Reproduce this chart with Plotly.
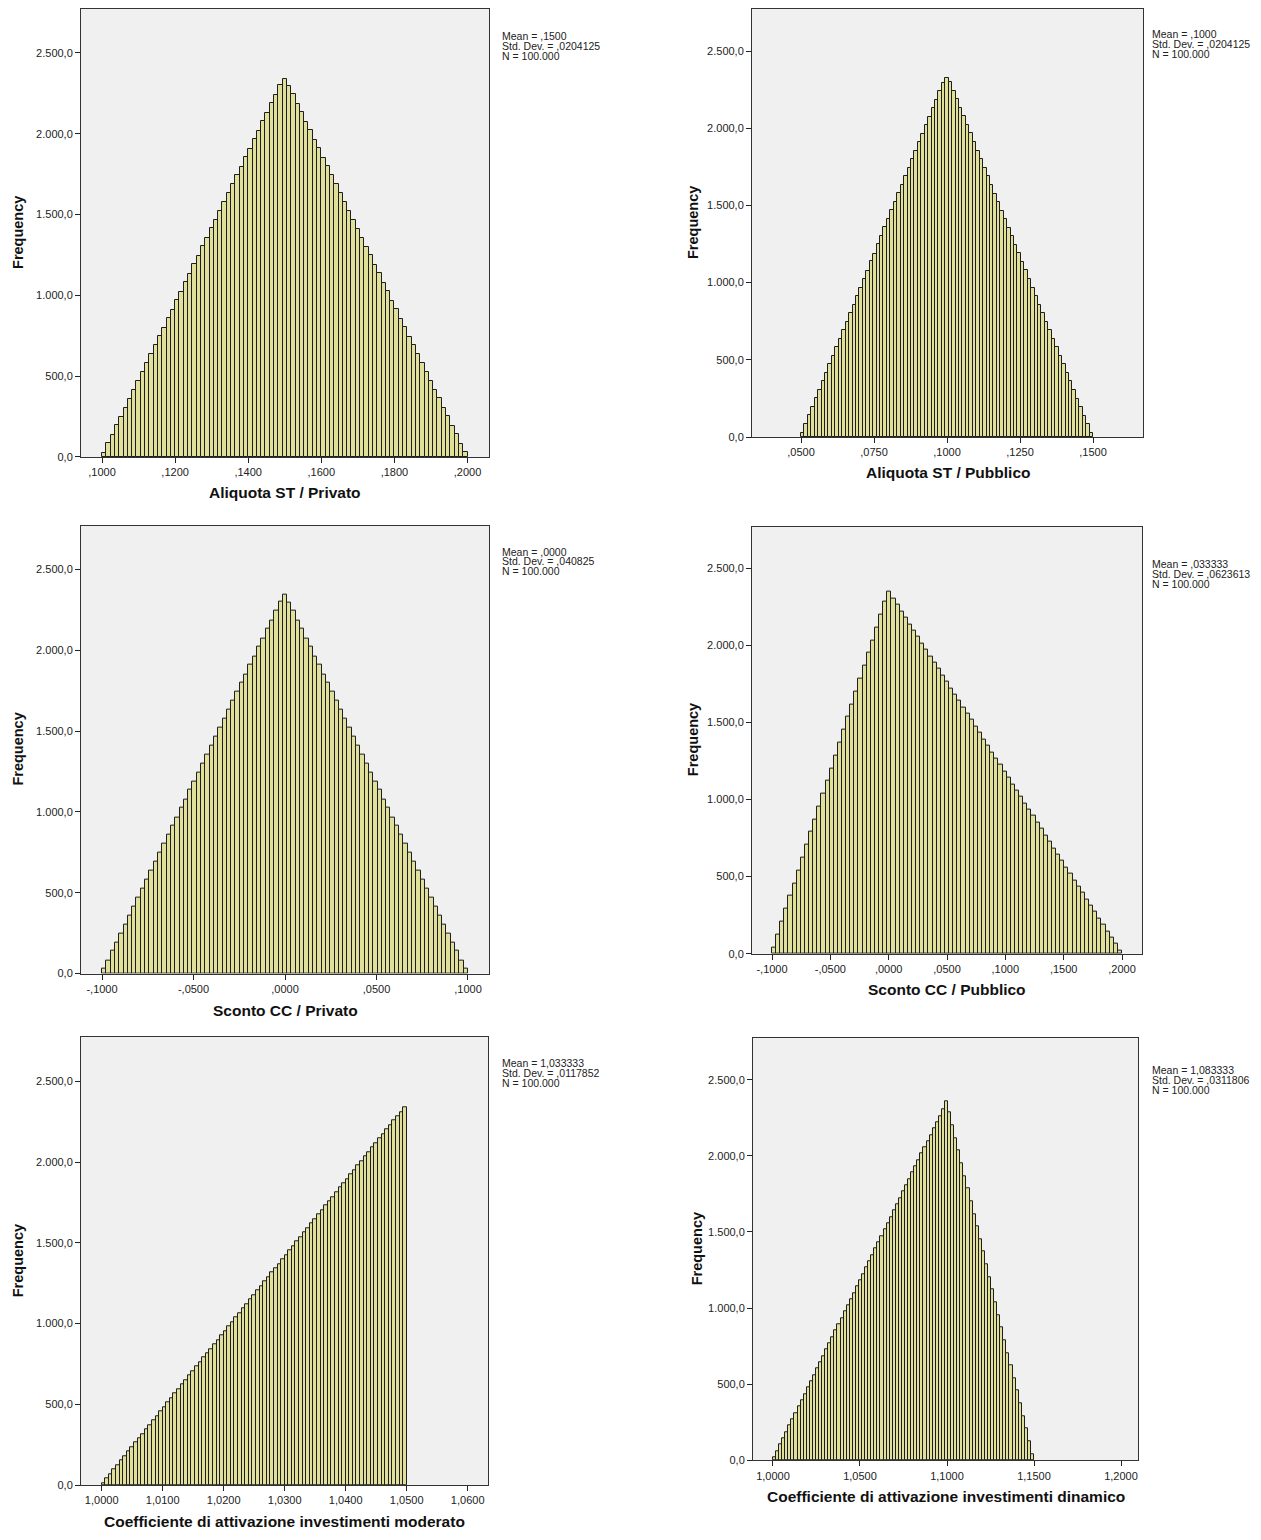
import plotly.graph_objects as go

# ---------------- DATA ----------------
# Panel 1: Aliquota ST / Privato
p1_title = "Aliquota ST / Privato"
p1_bins = [0.10, 0.20]
p1_counts = [27, 85, 136, 196, 247, 306, 358, 417, 468, 528, 579, 639, 690, 749, 801, 860, 911, 971, 1022, 1081,
             1133, 1192, 1243, 1303, 1354, 1414, 1465, 1524, 1576, 1635, 1686, 1746, 1797, 1856, 1908, 1967, 2018,
             2078, 2129, 2189, 2240, 2299, 2336,
             2295, 2244, 2185, 2133, 2074, 2022, 1963, 1912, 1852, 1801, 1742, 1690, 1631, 1580, 1520, 1469, 1410,
             1358, 1299, 1247, 1188, 1137, 1077, 1026, 967, 915, 856, 805, 745, 694, 635, 583, 524, 472, 413, 362,
             302, 251, 192, 140, 81, 29]
p1_xticks = [0.10, 0.12, 0.14, 0.16, 0.18, 0.20]
p1_xlabels = [",1000", ",1200", ",1400", ",1600", ",1800", ",2000"]
p1_stats = ["Mean = ,1500", "Std. Dev. = ,0204125", "N = 100.000"]

# Panel 2: Aliquota ST / Pubblico
p2_title = "Aliquota ST / Pubblico"
p2_bins = [0.05, 0.15]
p2_counts = [29, 82, 140, 192, 251, 302, 362, 413, 472, 524, 583, 635, 694, 745, 805, 856, 915, 967, 1026, 1077,
             1137, 1188, 1247, 1299, 1358, 1410, 1469, 1520, 1580, 1631, 1690, 1742, 1801, 1852, 1912, 1963, 2022,
             2074, 2133, 2185, 2244, 2290, 2322,
             2298, 2241, 2188, 2130, 2077, 2019, 1966, 1909, 1855, 1798, 1744, 1688, 1633, 1577, 1522, 1467, 1411,
             1356, 1300, 1245, 1190, 1134, 1079, 1024, 968, 913, 858, 802, 747, 692, 636, 581, 526, 470, 415, 360,
             304, 249, 194, 138, 83, 28]
p2_xticks = [0.05, 0.075, 0.10, 0.125, 0.15]
p2_xlabels = [",0500", ",0750", ",1000", ",1250", ",1500"]
p2_stats = ["Mean = ,1000", "Std. Dev. = ,0204125", "N = 100.000"]

# Panel 3: Sconto CC / Privato
p3_title = "Sconto CC / Privato"
p3_bins = [-0.10, 0.10]
p3_counts = [28, 83, 139, 193, 250, 303, 361, 414, 471, 525, 582, 636, 693, 746, 804, 857, 914, 968, 1025, 1078,
             1136, 1189, 1246, 1300, 1357, 1411, 1468, 1521, 1579, 1632, 1689, 1743, 1800, 1853, 1911, 1964, 2021,
             2075, 2132, 2186, 2243, 2301, 2348,
             2296, 2243, 2186, 2132, 2075, 2021, 1964, 1911, 1853, 1800, 1743, 1689, 1632, 1579, 1521, 1468, 1411,
             1357, 1300, 1246, 1189, 1136, 1078, 1025, 968, 914, 857, 804, 746, 693, 636, 582, 525, 471, 414, 361,
             303, 250, 193, 139, 83, 28]
p3_xticks = [-0.10, -0.05, 0.0, 0.05, 0.10]
p3_xlabels = ["-,1000", "-,0500", ",0000", ",0500", ",1000"]
p3_stats = ["Mean = ,0000", "Std. Dev. = ,040825", "N = 100.000"]

# Panel 4: Sconto CC / Pubblico
p4_title = "Sconto CC / Pubblico"
p4_bins = [-0.10, 0.20]
p4_counts = [42, 125, 208, 291, 374, 457, 540, 623, 706, 789, 872, 955, 1038, 1121, 1204, 1287, 1370, 1453, 1536,
             1619, 1702, 1785, 1868, 1951, 2034, 2117, 2200, 2283, 2352,
             2304, 2263, 2221, 2180, 2138, 2097, 2055, 2014, 1972, 1931, 1889, 1848, 1806, 1765, 1723, 1682, 1640,
             1599, 1557, 1516, 1474, 1432, 1391, 1349, 1308, 1266, 1225, 1183, 1142, 1100, 1059, 1017, 976, 934,
             893, 851, 810, 768, 727, 685, 644, 602, 561, 519, 477, 436, 394, 353, 311, 270, 228, 187, 145, 104,
             62, 21]
p4_xticks = [-0.10, -0.05, 0.0, 0.05, 0.10, 0.15, 0.20]
p4_xlabels = ["-,1000", "-,0500", ",0000", ",0500", ",1000", ",1500", ",2000"]
p4_stats = ["Mean = ,033333", "Std. Dev. = ,0623613", "N = 100.000"]

# Panel 5: Coefficiente di attivazione investimenti moderato
p5_title = "Coefficiente di attivazione investimenti moderato"
p5_bins = [1.00, 1.05]
p5_counts = [14, 42, 69, 97, 125, 152, 180, 208, 235, 263, 291, 318, 346, 374, 401, 429, 457, 484, 512, 540, 567,
             595, 623, 650, 678, 706, 734, 761, 789, 817, 844, 872, 900, 927, 955, 983, 1010, 1038, 1066, 1093,
             1121, 1149, 1176, 1204, 1232, 1259, 1287, 1315, 1342, 1370, 1398, 1425, 1453, 1481, 1508, 1536, 1564,
             1592, 1619, 1647, 1675, 1702, 1730, 1758, 1785, 1813, 1841, 1868, 1896, 1924, 1951, 1979, 2007, 2034,
             2062, 2090, 2117, 2145, 2173, 2200, 2228, 2256, 2283, 2311, 2339]
p5_xticks = [1.00, 1.01, 1.02, 1.03, 1.04, 1.05, 1.06]
p5_xlabels = ["1,0000", "1,0100", "1,0200", "1,0300", "1,0400", "1,0500", "1,0600"]
p5_stats = ["Mean = 1,033333", "Std. Dev. = ,0117852", "N = 100.000"]

# Panel 6: Coefficiente di attivazione investimenti dinamico
p6_title = "Coefficiente di attivazione investimenti dinamico"
p6_bins = [1.00, 1.15]
p6_counts = [21, 62, 104, 145, 187, 228, 270, 311, 353, 394, 436, 477, 519, 560, 602, 643, 685, 727, 768, 810, 851,
             893, 934, 976, 1017, 1059, 1100, 1142, 1183, 1225, 1266, 1308, 1349, 1391, 1432, 1474, 1515, 1557, 1599,
             1640, 1682, 1723, 1765, 1806, 1848, 1889, 1931, 1972, 2014, 2055, 2097, 2138, 2180, 2221, 2263, 2304,
             2355,
             2284, 2201, 2118, 2034, 1951, 1868, 1785, 1702, 1619, 1536, 1453, 1370, 1287, 1204, 1121, 1038, 955,
             872, 789, 706, 623, 540, 457, 374, 291, 208, 125, 42]
p6_xticks = [1.00, 1.05, 1.10, 1.15, 1.20]
p6_xlabels = ["1,0000", "1,0500", "1,1000", "1,1500", "1,2000"]
p6_stats = ["Mean = 1,083333", "Std. Dev. = ,0311806", "N = 100.000"]

y_ticks = [0, 500, 1000, 1500, 2000, 2500]
y_labels = ["0,0", "500,0", "1.000,0", "1.500,0", "2.000,0", "2.500,0"]
y_label_text = "Frequency"

# ---------------- LAYOUT ----------------
OFF = 8                      # default page body margin
W, H = 1261 - OFF, 1540 - OFF
FONT = "Liberation Sans, Arial, sans-serif"

panels = [
    dict(counts=p1_counts, title=p1_title, bins=p1_bins, xt=p1_xticks, xl=p1_xlabels, stats=p1_stats,
         box=(81, 489, 8, 458), xr=(0.09425, 0.20588), xt_y=494, yt_x=18, st=(500, (35, 45, 55))),
    dict(counts=p2_counts, title=p2_title, bins=p2_bins, xt=p2_xticks, xl=p2_xlabels, stats=p2_stats,
         box=(752, 1143, 8, 438), xr=(0.03322, 0.16712), xt_y=474, yt_x=693, st=(1150, (33, 43, 53))),
    dict(counts=p3_counts, title=p3_title, bins=p3_bins, xt=p3_xticks, xl=p3_xlabels, stats=p3_stats,
         box=(81, 489, 527, 977), xr=(-0.11148, 0.11148), xt_y=1014, yt_x=18, st=(500, (553, 563, 573))),
    dict(counts=p4_counts, title=p4_title, bins=p4_bins, xt=p4_xticks, xl=p4_xlabels, stats=p4_stats,
         box=(752, 1142, 528, 957), xr=(-0.11714, 0.21714), xt_y=993, yt_x=693, st=(1150, (566, 576, 586))),
    dict(counts=p5_counts, title=p5_title, bins=p5_bins, xt=p5_xticks, xl=p5_xlabels, stats=p5_stats,
         box=(81, 488, 1041, 1491), xr=(0.99661, 1.06333), xt_y=1527, yt_x=18, st=(500, (1067, 1077, 1087))),
    dict(counts=p6_counts, title=p6_title, bins=p6_bins, xt=p6_xticks, xl=p6_xlabels, stats=p6_stats,
         box=(753, 1138, 1042, 1466), xr=(0.98851, 1.20977), xt_y=1502, yt_x=697, st=(1150, (1074, 1084, 1094))),
]

fig = go.Figure()
layout = dict(
    width=W, height=H, autosize=False,
    margin=dict(l=0, r=0, t=0, b=0),
    paper_bgcolor="white",
    showlegend=False,
    font=dict(family=FONT, size=11, color="#222"),
    annotations=[],
    shapes=[],
    bargap=0,
)


def px(x):
    return (x - OFF) / W


def py(y):
    return 1 - (y - OFF) / H


for i, p in enumerate(panels, start=1):
    n = len(p["counts"])
    lo, hi = p["bins"]
    w = (hi - lo) / n
    centers = [lo + (k + 0.5) * w for k in range(n)]
    xa = "x" if i == 1 else f"x{i}"
    ya = "y" if i == 1 else f"y{i}"
    fig.add_trace(go.Bar(
        x=centers, y=p["counts"], width=[w] * n,
        marker=dict(color="#e0e09a", line=dict(color="#1e1e1e", width=1)),
        xaxis=xa, yaxis=ya, hoverinfo="x+y",
    ))
    L, R, T, B = p["box"]
    xkey = "xaxis" if i == 1 else f"xaxis{i}"
    ykey = "yaxis" if i == 1 else f"yaxis{i}"
    layout[xkey] = dict(
        domain=[px(L), px(R)], anchor=ya, range=list(p["xr"]),
        tickvals=p["xt"], ticktext=p["xl"], ticks="outside", ticklen=5, tickwidth=1,
        tickcolor="#222", showline=True, mirror=True, linecolor="#333", linewidth=1,
        showgrid=False, zeroline=False, tickfont=dict(family=FONT, size=11, color="#222"),
        fixedrange=True,
    )
    layout[ykey] = dict(
        domain=[py(B), py(T)], anchor=xa, range=[0, 2772],
        tickvals=y_ticks, ticktext=y_labels, ticks="outside", ticklen=5, tickwidth=1,
        tickcolor="#222", showline=True, mirror=True, linecolor="#333", linewidth=1,
        showgrid=False, zeroline=False, tickfont=dict(family=FONT, size=11, color="#222"),
        fixedrange=True,
    )
    layout["shapes"].append(dict(type="rect", xref="paper", yref="paper",
                                 x0=px(L), x1=px(R), y0=py(B), y1=py(T),
                                 fillcolor="#f0f0f0", line=dict(width=0), layer="below"))
    layout["annotations"].append(dict(
        text=f"<b>{p['title']}</b>", xref="paper", yref="paper",
        x=px((L + R) / 2), y=py(p["xt_y"]), xanchor="center", yanchor="middle",
        showarrow=False, font=dict(family=FONT, size=15.5, color="#111")))
    layout["annotations"].append(dict(
        text=f"<b>{y_label_text}</b>", xref="paper", yref="paper",
        x=px(p["yt_x"]), y=py((T + B) / 2), xanchor="center", yanchor="middle",
        textangle=-90, showarrow=False, font=dict(family=FONT, size=14.5, color="#111")))
    sx, sys_ = p["st"]
    for line, ly in zip(p["stats"], sys_):
        layout["annotations"].append(dict(
            text=line, xref="paper", yref="paper",
            x=px(sx), y=py(ly), xanchor="left", yanchor="middle", align="left",
            showarrow=False, font=dict(family=FONT, size=10.5, color="#222")))

fig.update_layout(**layout)
fig.write_html("out.html")
